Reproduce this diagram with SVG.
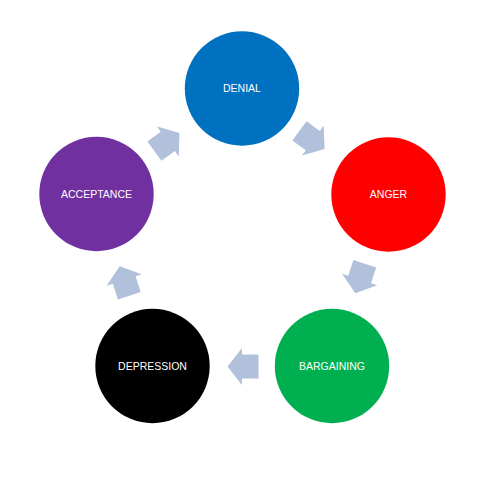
<svg xmlns="http://www.w3.org/2000/svg" width="494" height="478" viewBox="0 0 494 478">
<style>
  .lbl { font-family: "Liberation Sans", Arial, sans-serif; font-size: 10.5px; fill: #ffffff; text-anchor: middle; }
  .arr { fill: #B1C0DB; }
</style>
<defs>
  <path id="blk" d="M-15.5,-12 L1,-12 L1,-18.5 L15.5,0 L1,18.5 L1,12 L-15.5,12 Z"/>
</defs>
<rect width="494" height="478" fill="#ffffff"/>
<g id="connectors">
  <use href="#blk" class="arr" transform="translate(312,140) rotate(36)"/>
  <use href="#blk" class="arr" transform="translate(360,278.5) rotate(108)"/>
  <use href="#blk" class="arr" transform="translate(243,366.5) rotate(180)"/>
  <use href="#blk" class="arr" transform="translate(124.5,281) rotate(252)"/>
  <use href="#blk" class="arr" transform="translate(167,142) rotate(-36)"/>
</g>
<g id="denial">
  <circle cx="242" cy="88.5" r="57.2" fill="#0070C0"/>
  <text class="lbl" x="242" y="92">DENIAL</text>
</g>
<g id="anger">
  <circle cx="388.5" cy="194.5" r="57.2" fill="#FF0000"/>
  <text class="lbl" x="388.5" y="198">ANGER</text>
</g>
<g id="bargaining">
  <circle cx="332" cy="366" r="57.2" fill="#00B050"/>
  <text class="lbl" x="332" y="369.5">BARGAINING</text>
</g>
<g id="depression">
  <circle cx="152.5" cy="366" r="57.2" fill="#000000"/>
  <text class="lbl" x="152.5" y="369.5">DEPRESSION</text>
</g>
<g id="acceptance">
  <circle cx="96.5" cy="194" r="57.2" fill="#7030A0"/>
  <text class="lbl" x="96.5" y="197.5">ACCEPTANCE</text>
</g>
</svg>
